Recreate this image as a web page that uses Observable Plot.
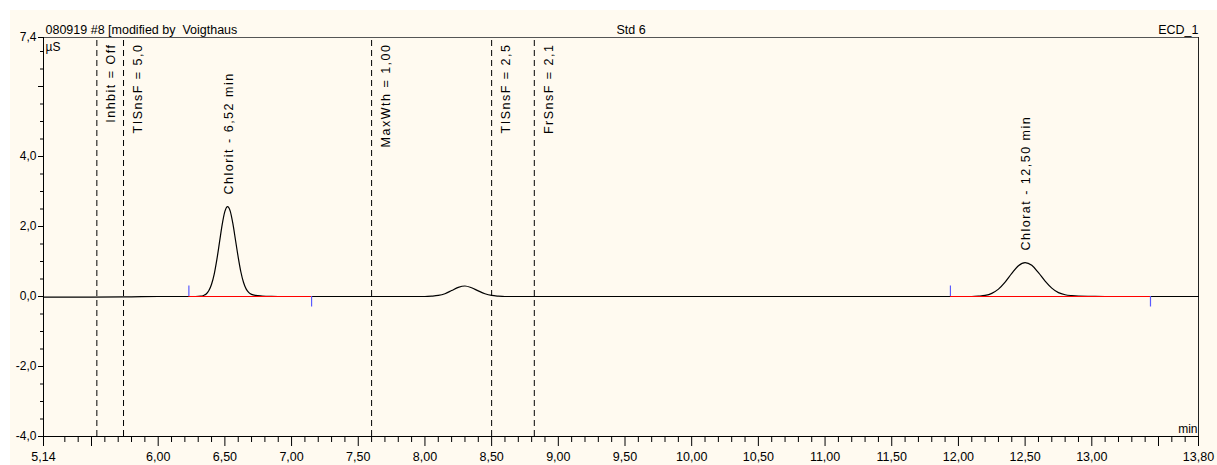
<!DOCTYPE html>
<html>
<head>
<meta charset="utf-8">
<script src="https://cdn.jsdelivr.net/npm/d3@7"></script>
<script src="https://cdn.jsdelivr.net/npm/@observablehq/plot@0.6"></script>
<style>
  html, body { margin: 0; padding: 0; background: #fff; overflow: hidden; }
  #chart { position: absolute; left: 10px; top: 10px; }
  .evt text { letter-spacing: 1.5px; }
</style>
</head>
<body>
<div id="chart"></div>
<script>
// Chromatogram trace: retention time (min) and conductivity signal (µS)
const time = [
  5.14, 5.50, 5.80, 6.00, 6.20, 6.28,
  6.32, 6.34, 6.36, 6.38, 6.40, 6.42, 6.44, 6.46, 6.48, 6.50,
  6.52, 6.54, 6.56, 6.58, 6.60, 6.62, 6.64, 6.66, 6.68, 6.70,
  6.73, 6.78, 6.85, 6.95, 7.50,
  8.00, 8.05, 8.10, 8.15, 8.20, 8.25, 8.30, 8.35, 8.40, 8.45, 8.50, 8.55, 8.60,
  9.50, 11.00,
  12.10, 12.15, 12.20, 12.25, 12.30, 12.35, 12.40, 12.45, 12.50,
  12.55, 12.60, 12.65, 12.70, 12.75, 12.80, 12.85, 12.90, 13.00, 13.10, 13.80
];
const signal = [
  -0.02, -0.02, -0.01, 0.0, 0.0, 0.0,
  0.01, 0.03, 0.07, 0.17, 0.35, 0.64, 1.06, 1.56, 2.06, 2.43,
  2.57, 2.44, 2.08, 1.60, 1.12, 0.70, 0.40, 0.21, 0.11, 0.06,
  0.03, 0.015, 0.005, 0.0, 0.0,
  0.0, 0.01, 0.03, 0.08, 0.17, 0.26, 0.30, 0.25, 0.16, 0.08, 0.03, 0.01, 0.0,
  0.0, 0.0,
  0.0, 0.01, 0.03, 0.09, 0.21, 0.41, 0.66, 0.88, 0.97,
  0.89, 0.68, 0.44, 0.24, 0.11, 0.05, 0.025, 0.012, 0.005, 0.0, 0.0
];

// Identified peaks
const peakTimes = [6.52, 12.50];
const peakHeights = [2.57, 0.97];
const peakLabels = ["Chlorit - 6,52 min", "Chlorat - 12,50 min"];

// Integration windows (start / end of the drawn baseline)
const integrationStart = [6.23, 11.94];
const integrationEnd = [7.15, 13.44];

// Timed program events
const eventTimes = [5.54, 5.74, 7.60, 8.50, 8.82];
const eventLabels = ["Inhbit = Off", "TISnsF = 5,0", "MaxWth = 1,00", "TISnsF = 2,5", "FrSnsF = 2,1"];

// Axis ticks and their labels
const xMajorTicks = [5.14, 5.5, 6.0, 6.5, 7.0, 7.5, 8.0, 8.5, 9.0, 9.5, 10.0, 10.5, 11.0, 11.5, 12.0, 12.5, 13.0, 13.5, 13.8];
const xTickLabels = ["5,14", "", "6,00", "6,50", "7,00", "7,50", "8,00", "8,50", "9,00", "9,50", "10,00", "10,50", "11,00", "11,50", "12,00", "12,50", "13,00", "", "13,80"];
const yMajorTicks = [-4, -2, 0, 2, 4, 6, 7.4];
const yTickLabels = ["-4,0", "-2,0", "0,0", "2,0", "4,0", "", "7,4"];

const headerLeft = "080919 #8 [modified by\u00a0 Voigthaus";
const headerCenter = "Std 6";
const headerRight = "ECD_1";
const yUnit = "µS";
const xUnit = "min";

const xMinorTicks = d3.range(53, 138).filter(i => i % 5 !== 0).map(i => i / 10);
const yMinorTicks = d3.range(-7, 15).filter(i => i % 4 !== 0).map(i => i / 2);

const trace = time.map((t, i) => ({t, v: signal[i]}));
const peaks = peakTimes.map((t, i) => ({t, v: peakHeights[i], label: peakLabels[i]}));
const windows = integrationStart.map((s, i) => ({s, e: integrationEnd[i]}));
const events = eventTimes.map((t, i) => ({t, label: eventLabels[i]}));

const xLabel = new Map(xMajorTicks.map((d, i) => [d, xTickLabels[i]]));
const yLabel = new Map(yMajorTicks.map((d, i) => [d, yTickLabels[i]]));

const plot = Plot.plot({
  width: 1207,
  height: 455,
  marginLeft: 33,
  marginRight: 19,
  marginTop: 27,
  marginBottom: 29,
  style: {
    background: "#fffaf0",
    fontFamily: "'Liberation Sans', Arial, sans-serif",
    fontSize: "12px",
    color: "#000",
    overflow: "visible"
  },
  x: {domain: [5.14, 13.8], label: null},
  y: {domain: [-4, 7.4], label: null},
  marks: [
    // frame
    Plot.ruleY([7.4], {stroke: "#555", strokeWidth: 1}),
    Plot.ruleX([13.8], {stroke: "#222", strokeWidth: 1}),

    // program events
    Plot.ruleX(events, {x: "t", y1: -4, y2: 7.4, stroke: "#000", strokeDasharray: "6,4", strokeWidth: 1}),
    Plot.text(events, {
      x: "t", y: 7.4, text: "label", rotate: -90,
      textAnchor: "end", lineAnchor: "middle", dx: 14.5, dy: 6,
      fontSize: 12.5, fill: "#000", className: "evt"
    }),

    // trace
    Plot.line(trace, {x: "t", y: "v", curve: "monotone-x", stroke: "#000", strokeWidth: 1.2}),

    // integration baselines and delimiters
    Plot.ruleY(windows, {y: 0, x1: "s", x2: "e", stroke: "#ff0000", strokeWidth: 1}),
    Plot.ruleX(windows, {x: "s", y1: 0, y2: 0.3, stroke: "#5a5aff", strokeWidth: 1.2}),
    Plot.ruleX(windows, {x: "e", y1: 0, y2: -0.3, stroke: "#5a5aff", strokeWidth: 1.2}),

    // peak names
    Plot.text(peaks, {
      x: "t", y: "v", text: "label", rotate: -90,
      textAnchor: "start", lineAnchor: "middle", dx: 1, dy: -12,
      fontSize: 12.5, fill: "#000", className: "evt"
    }),

    // axes
    Plot.axisY({ticks: yMinorTicks, tickSize: 3, tickFormat: () => "", label: null}),
    Plot.axisY({ticks: yMajorTicks, tickSize: 5, tickPadding: 2, tickFormat: d => yLabel.get(d), label: null}),
    Plot.axisX({ticks: xMinorTicks, tickSize: 6, tickFormat: () => "", label: null}),
    Plot.axisX({ticks: xMajorTicks, tickSize: 10, tickPadding: 6, tickFormat: d => xLabel.get(d), label: null, fontSize: 12.5}),
    Plot.ruleX([5.14], {stroke: "#000", strokeWidth: 1}),
    Plot.ruleY([-4], {stroke: "#000", strokeWidth: 1}),

    // header and unit labels
    Plot.text([headerLeft], {text: d => d, frameAnchor: "top-left", textAnchor: "start", lineAnchor: "bottom", dx: 2, dy: -4, fontSize: 12.5}),
    Plot.text([headerCenter], {text: d => d, frameAnchor: "top", textAnchor: "middle", lineAnchor: "bottom", dx: 10, dy: -4, fontSize: 12.5}),
    Plot.text([headerRight], {text: d => d, frameAnchor: "top-right", textAnchor: "end", lineAnchor: "bottom", dx: 0, dy: -4, fontSize: 12.5}),
    Plot.text([yUnit], {text: d => d, frameAnchor: "top-left", textAnchor: "start", lineAnchor: "bottom", dx: 2, dy: 13, fontSize: 12}),
    Plot.text([xUnit], {text: d => d, frameAnchor: "bottom-right", textAnchor: "end", lineAnchor: "bottom", dx: -1, dy: -4, fontSize: 12})
  ]
});

document.getElementById("chart").appendChild(plot);
</script>
</body>
</html>
